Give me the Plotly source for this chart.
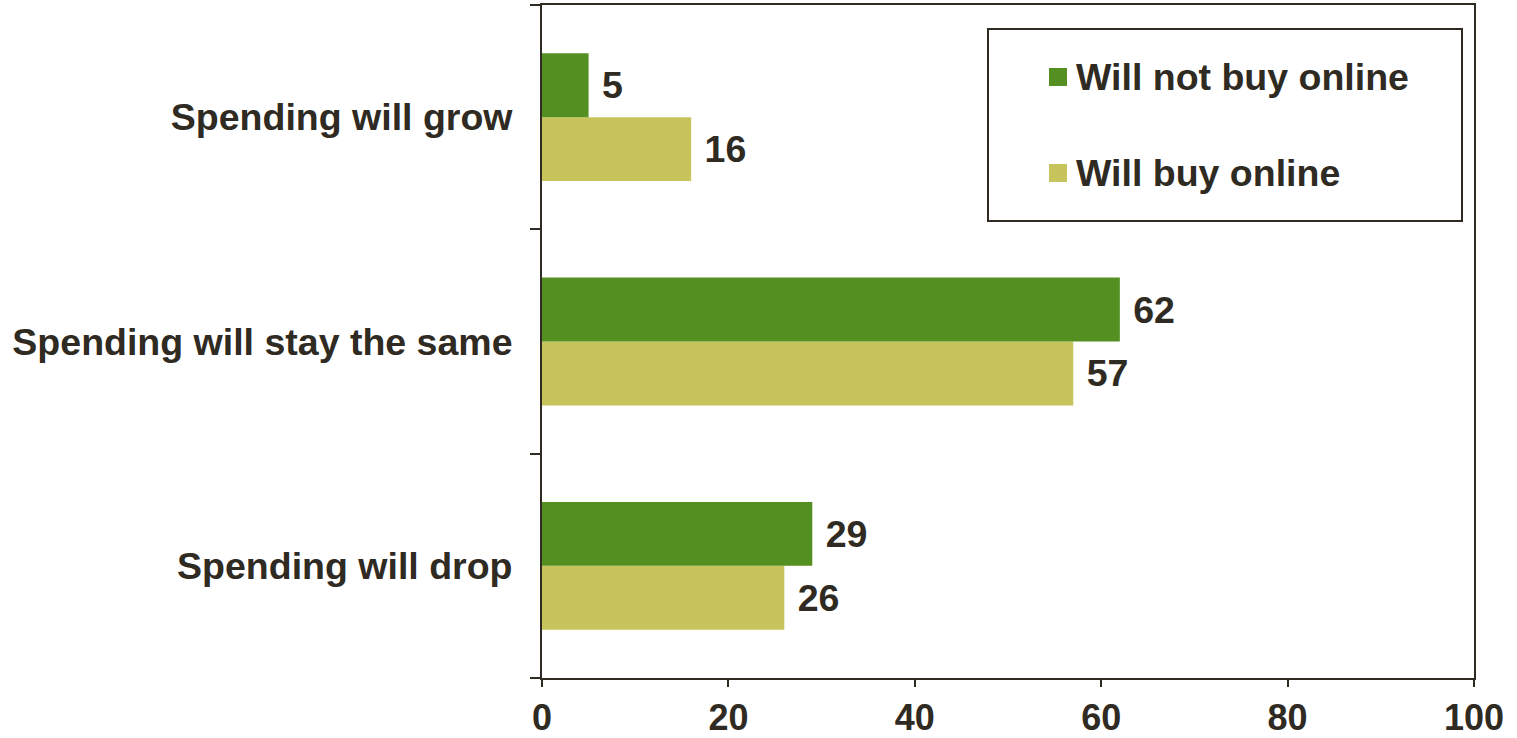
import plotly.graph_objects as go

# Survey responses (%), by expected change in spending
categories = ["Spending will grow", "Spending will stay the same", "Spending will drop"]
will_not_buy_online = [5, 62, 29]
will_buy_online = [16, 57, 26]
x_ticks = [0, 20, 40, 60, 80, 100]

GREEN = "#548F22"
OLIVE = "#C6C45A"
INK = "#2F2A22"
FONT = "Liberation Sans, Arial, sans-serif"
FS = 37.5

W, H = 1517, 738
L, R, T, B = 542, 43, 5, 60
PW, PH = W - L - R, H - T - B


def px_x(x):
    return (x - L) / PW


def px_y(y):
    return (H - B - y) / PH


fig = go.Figure()

# In horizontal grouped bars, the first trace sits lowest in each group
fig.add_trace(go.Bar(
    y=categories, x=will_buy_online, orientation="h", name="Will buy online",
    marker=dict(color=OLIVE, line=dict(width=0)),
    text=will_buy_online, texttemplate=" %{x}", textposition="outside",
    textfont=dict(family=FONT, size=FS, color=INK), cliponaxis=False,
    constraintext="none", showlegend=False,
))
fig.add_trace(go.Bar(
    y=categories, x=will_not_buy_online, orientation="h", name="Will not buy online",
    marker=dict(color=GREEN, line=dict(width=0)),
    text=will_not_buy_online, texttemplate=" %{x}", textposition="outside",
    textfont=dict(family=FONT, size=FS, color=INK), cliponaxis=False,
    constraintext="none", showlegend=False,
))

# Legend panel
shapes = [dict(type="rect", xref="paper", yref="paper",
               x0=px_x(988), x1=px_x(1462), y0=px_y(221), y1=px_y(29),
               line=dict(color=INK, width=2), fillcolor="white", layer="above")]
annotations = []
legend_items = [("Will not buy online", GREEN, 77), ("Will buy online", OLIVE, 173)]
for label, color, yc in legend_items:
    shapes.append(dict(type="rect", xref="paper", yref="paper",
                       x0=px_x(1049), x1=px_x(1067), y0=px_y(yc + 9), y1=px_y(yc - 9),
                       line=dict(width=0), fillcolor=color, layer="above"))
    annotations.append(dict(xref="paper", yref="paper", x=px_x(1074), y=px_y(yc),
                            xanchor="left", yanchor="middle", showarrow=False,
                            text=f"<b>{label}</b>",
                            font=dict(family=FONT, size=FS, color=INK)))

fig.update_layout(
    width=W, height=H,
    margin=dict(l=L, r=R, t=T, b=B, pad=0, autoexpand=False),
    paper_bgcolor="white", plot_bgcolor="white",
    barmode="group", bargap=0.43, bargroupgap=0,
    font=dict(family=FONT, size=FS, color=INK, weight="bold"),
    shapes=shapes, annotations=annotations,
    showlegend=False,
)
fig.update_xaxes(
    range=[0, 100], tickvals=x_ticks, showgrid=False, zeroline=False,
    showline=True, linecolor=INK, linewidth=2, mirror=True,
    ticks="outside", ticklen=7, tickwidth=2, tickcolor=INK,
    tickfont=dict(family=FONT, size=36, color=INK, weight="bold"),
    ticklabelstandoff=0, automargin=False,
)
fig.update_yaxes(
    type="category", categoryorder="array", categoryarray=categories[::-1],
    showgrid=False, zeroline=False,
    showline=True, linecolor=INK, linewidth=2, mirror=True,
    ticks="outside", ticklen=10, tickwidth=2, tickcolor=INK, tickson="boundaries",
    tickfont=dict(family=FONT, size=FS, color=INK, weight="bold"),
    ticklabelstandoff=20, automargin=False,
)

fig.write_html("out.html")
